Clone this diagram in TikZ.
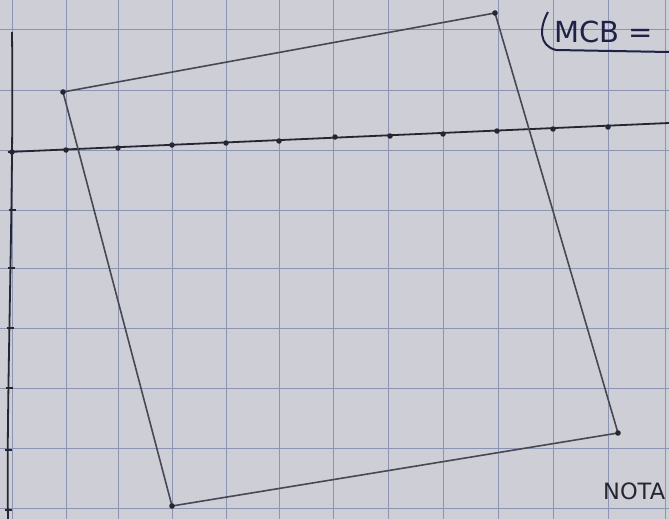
\documentclass[tikz,border=0pt]{standalone}
\usepackage{fontspec}
\setsansfont{DejaVu Sans}
\definecolor{paper}{RGB}{206,206,214}
\definecolor{gridc}{RGB}{140,148,178}
\definecolor{pencil}{RGB}{72,72,82}
\definecolor{ink}{RGB}{38,38,48}
\definecolor{blueink}{RGB}{30,34,70}
\begin{document}
\begin{tikzpicture}[x=1pt,y=-1pt,
  gridline/.style={gridc,line width=0.9pt},
  pencilline/.style={pencil,line width=1.6pt},
  axisline/.style={ink,line width=1.8pt},
  axisdot/.style={circle,fill=ink,inner sep=0pt,minimum size=5.5pt},
  tickmark/.style={ink,line width=1.8pt},
  hand/.style={font=\sffamily\fontsize{29}{29}\selectfont,inner sep=0pt}]
\useasboundingbox (0,0) rectangle (669,519);
\clip (0,0) rectangle (669,519);
\fill[paper] (0,0) rectangle (669,519);
% grid
\foreach \x in {12,66,118,172,226,279,333,388,443,498,553,608,665}
  \draw[gridline] (\x,0) -- (\x,519);
\foreach \y in {29,90,150,210,268,328,388,448,508}
  \draw[gridline] (0,\y) -- (669,\y);
% vertical axis
\coordinate (vtop) at (12,32);
\coordinate (vbot) at (8,519);
\draw[axisline] (vtop) .. controls (14,200) and (6,400) .. (vbot);
\foreach \y/\xx in {210/12,268/11,328/10,388/9,450/8,510/8}
  \draw[tickmark] (\xx-3.5,\y) -- (\xx+3.5,\y);
% horizontal axis
\coordinate (hl) at (8,152);
\coordinate (hr) at (669,123);
\draw[axisline] (hl) -- (hr);
\foreach \x/\y in {12/152,66/150,118/148,172/145,226/143,279/141,335/137,390/136,443/134,497/131,553/129,608/127}
  \node[axisdot] at (\x,\y) {};
% quadrilateral
\coordinate (A) at (63,92);
\coordinate (B) at (495,13);
\coordinate (C) at (618,433);
\coordinate (D) at (172,506);
\draw[pencilline,line join=round] (A) -- (B) -- (C) -- (D) -- cycle;
\foreach \p in {A,B,C,D} \fill[ink] (\p) circle (2.8pt);
% labels
\node[hand,anchor=west,blueink] (mcb) at (554,32) {MCB =};
\draw[blueink,line width=2pt] (548,12) .. controls (539,28) and (539,46) .. (556,50) -- (669,52);
\node[hand,anchor=west,ink,font=\sffamily\fontsize{22.5}{22.5}\selectfont] (nota) at (603,491) {NOTA};
\end{tikzpicture}
\end{document}
